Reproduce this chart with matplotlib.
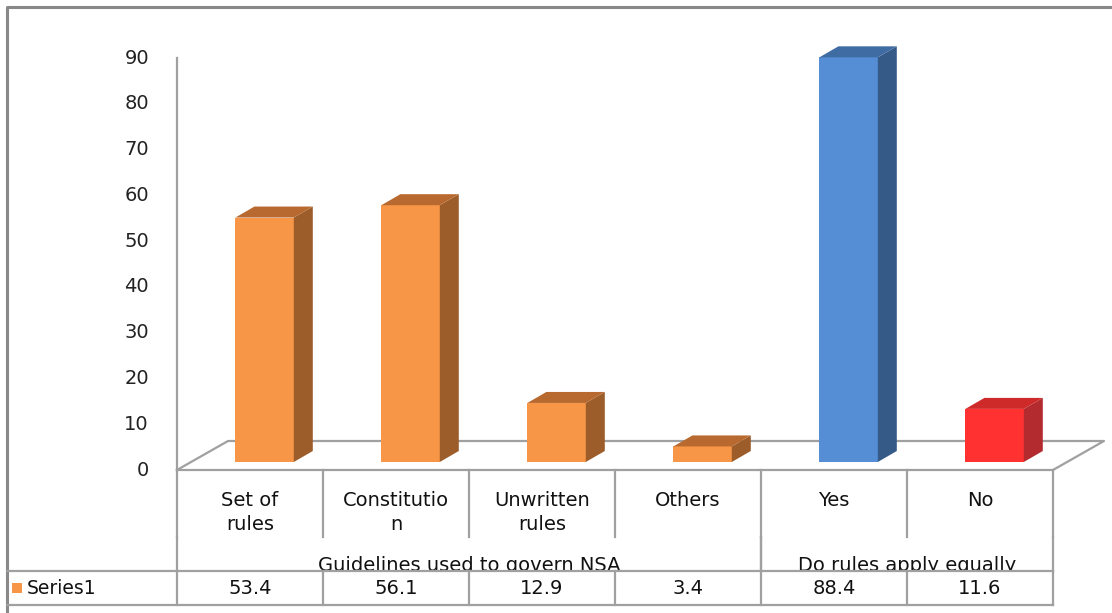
import numpy as np
import matplotlib.pyplot as plt
from matplotlib.patches import Polygon, Rectangle

# data
categories = ["Set of\nrules", "Constitutio\nn", "Unwritten\nrules", "Others", "Yes", "No"]
values = [53.4, 56.1, 12.9, 3.4, 88.4, 11.6]
groups = ["Guidelines used to govern NSA", "Do rules apply equally"]
group_spans = [(0, 4), (4, 6)]
yticks = [0, 10, 20, 30, 40, 50, 60, 70, 80, 90]
series_name = "Series1"

# front / side / top shades for each bar
front_cols = ["#F79646"] * 4 + ["#558ED5", "#FF3131"]
side_cols = ["#9C5D2B"] * 4 + ["#355A88", "#B32B2E"]
top_cols = ["#B8692F"] * 4 + ["#3F6CA3", "#CF2A2A"]

W, H = 1112, 613
fig = plt.figure(figsize=(W / 100, H / 100), dpi=100)

# chart axes: one category = 146 px, one unit = 4.578 px, origin at (177, 470)
px_cat, px_unit, x0, y0 = 146.0, 412.0 / 90, 177.0, 470.0
ax = fig.add_axes([0, 0, 1, 1])
ax.set_xlim(-x0 / px_cat, (W - x0) / px_cat)
ax.set_ylim((y0 - H) / px_unit, y0 / px_unit)
ax.axis("off")

grey = "#A0A0A0"
lw = 1.6
fs = 14
# depth of the floor and of the boxes (data units)
fdx, fdy = 51 / px_cat, 29 / px_unit
bdx, bdy = 19 / px_cat, 11 / px_unit
off_x, off_y = 0.10, 8 / px_unit
half = 0.2
n = len(values)

# floor
ax.plot([0, fdx, n + fdx, n], [0, fdy, fdy, 0], color=grey, lw=lw, zorder=1)
ax.plot([0, n], [0, 0], color=grey, lw=lw, zorder=1)
# value axis
ax.plot([0, 0], [0, yticks[-1]], color=grey, lw=lw, zorder=1)
for t in yticks:
    ax.text(-28 / px_cat, t, str(t), ha="right", va="center",
            fontsize=fs, color="#222222")

# 3d boxes
for i, v in enumerate(values):
    xl = i + 0.5 - half + off_x
    xr = i + 0.5 + half + off_x
    b = off_y
    t = off_y + v
    ax.add_patch(Rectangle((xl, b), xr - xl, v, facecolor=front_cols[i],
                           edgecolor="none", zorder=3))
    ax.add_patch(Polygon([(xr, b), (xr + bdx, b + bdy), (xr + bdx, t + bdy), (xr, t)],
                         closed=True, facecolor=side_cols[i], edgecolor="none", zorder=3))
    ax.add_patch(Polygon([(xl, t), (xr, t), (xr + bdx, t + bdy), (xl + bdx, t + bdy)],
                         closed=True, facecolor=top_cols[i], edgecolor="none", zorder=3))

# table in pixel coordinates
tb = fig.add_axes([0, 0, 1, 1])
tb.set_xlim(0, W)
tb.set_ylim(H, 0)
tb.axis("off")
tb.patch.set_alpha(0)

cols = [x0 + px_cat * k for k in range(n + 1)]
r_cat, r_grp, r_val, r_end = 470, 537, 571, 605

# outer frame
tb.plot([7, 7, W], [H, 7, 7], color="#888888", lw=2.2, zorder=5)

for k, x in enumerate(cols):
    tb.plot([x, x], [r_cat, r_grp], color=grey, lw=lw, zorder=5)
    tb.plot([x, x], [r_val, r_end], color=grey, lw=lw, zorder=5)
for a, b in group_spans:
    for x in (cols[a], cols[b]):
        tb.plot([x, x], [r_grp, r_val], color=grey, lw=lw, zorder=5)

for i, c in enumerate(categories):
    tb.text((cols[i] + cols[i + 1]) / 2, 491, c, ha="center", va="top",
            fontsize=fs, linespacing=1.3, color="#111111", zorder=2)

for g, (a, b) in zip(groups, group_spans):
    tb.text((cols[a] + cols[b]) / 2, 571, g, ha="center", va="baseline",
            fontsize=fs, color="#111111", zorder=2)

# value row sits over the group labels
tb.add_patch(Rectangle((8, r_val), cols[-1] - 8, r_end - r_val,
                       facecolor="white", edgecolor="none", zorder=3))
tb.plot([7, cols[-1]], [r_val, r_val], color=grey, lw=lw, zorder=5)
tb.plot([7, cols[-1]], [r_end, r_end], color=grey, lw=lw, zorder=5)

for i, v in enumerate(values):
    tb.text((cols[i] + cols[i + 1]) / 2, (r_val + r_end) / 2 + 1, f"{v}",
            ha="center", va="center", fontsize=fs, color="#111111", zorder=6)

tb.add_patch(Rectangle((12, 583), 10, 10, facecolor=front_cols[0],
                       edgecolor="none", zorder=6))
tb.text(27, (r_val + r_end) / 2 + 1, series_name, ha="left", va="center",
        fontsize=fs - 0.5, color="#111111", zorder=6)

fig.savefig("out.png", dpi=100)
